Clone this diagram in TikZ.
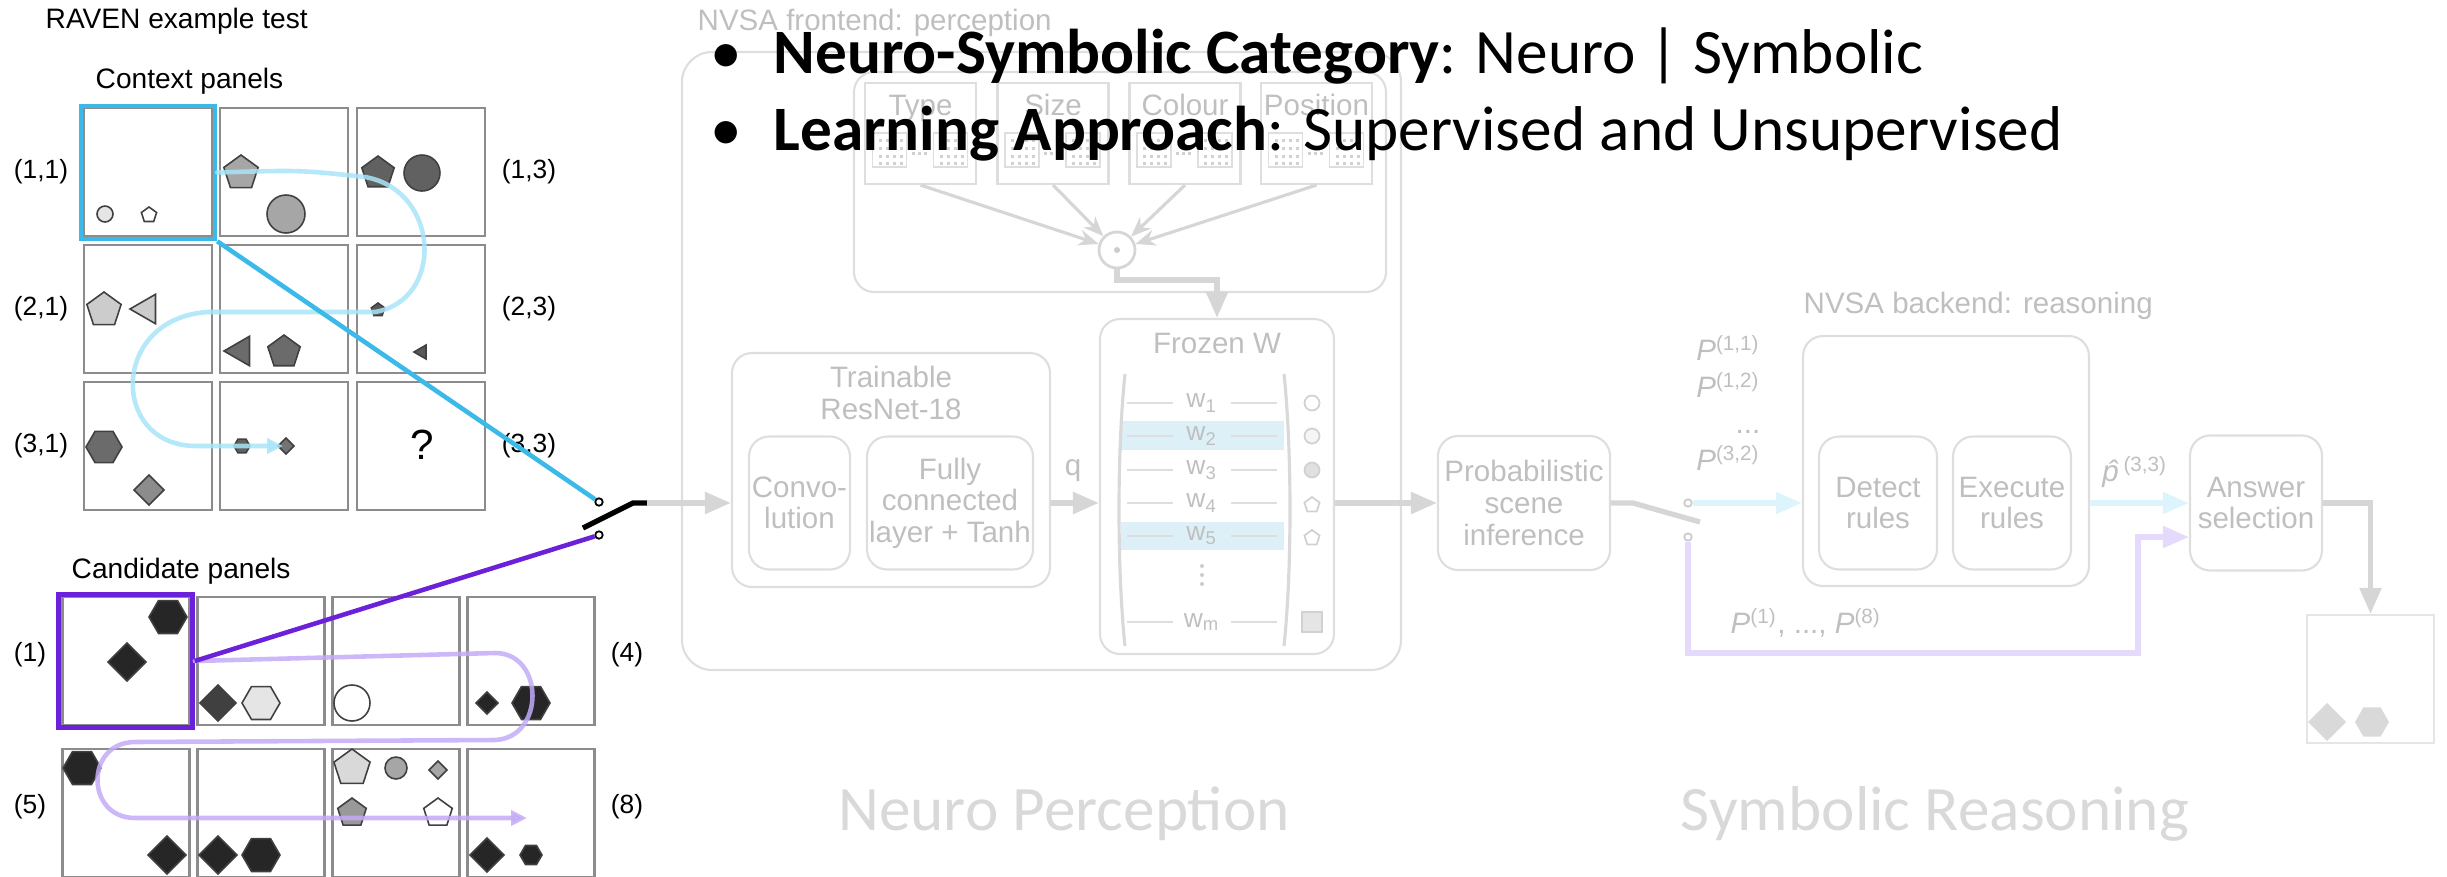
\documentclass[tikz,border=0pt]{standalone}
\usepackage{fontspec}
\setmainfont{Carlito}
\newfontfamily\figfont{Liberation Sans}
\usetikzlibrary{arrows.meta,positioning}

\definecolor{linkblue}{HTML}{3BB9E8}
\definecolor{snakeblue}{HTML}{A8E4F8}
\definecolor{linkpurple}{HTML}{6B21D9}
\definecolor{snakepurple}{HTML}{C3ABF7}
\definecolor{fadecyan}{HTML}{DDF4FC}
\definecolor{fadepurple}{HTML}{E5DAFB}
\definecolor{wband}{HTML}{DDF0F7}

\newcommand{\hexa}[4]{\filldraw[shaperim, fill=#4] (#1,#2) +(0:#3) -- +(60:#3) -- +(120:#3) -- +(180:#3) -- +(240:#3) -- +(300:#3) -- cycle;}
\newcommand{\penta}[4]{\filldraw[shaperim, fill=#4] (#1,#2) +(270:#3) -- +(342:#3) -- +(54:#3) -- +(126:#3) -- +(198:#3) -- cycle;}
\newcommand{\diam}[4]{\filldraw[shaperim, fill=#4] (#1,#2) +(0:#3) -- +(90:#3) -- +(180:#3) -- +(270:#3) -- cycle;}
\newcommand{\trig}[4]{\filldraw[shaperim, fill=#4] (#1,#2) +(180:#3) -- +(60:#3) -- +(300:#3) -- cycle;}
\newcommand{\disc}[4]{\filldraw[shaperim, fill=#4] (#1,#2) circle[radius=#3*0.1mm];}

\begin{document}
\begin{tikzpicture}[
    x=0.1mm, y=-0.1mm,
    panel/.style={draw=black!45, line width=0.6pt, minimum width=12.8mm, minimum height=12.8mm, inner sep=0pt},
    headline/.style={font=\figfont\fontsize{8}{9.6}\selectfont, inner sep=0pt},
    coord/.style={font=\figfont\fontsize{7.5}{9}\selectfont, inner sep=0pt},
    pick/.style={draw=#1, line width=1.3pt, minimum width=13.4mm, minimum height=13.3mm, inner sep=0pt},
    shaperim/.style={draw=black!75, line width=0.45pt},
    trail/.style={draw=#1, opacity=0.85, line width=1.3pt, line cap=round, -{Triangle[length=1.6mm,width=1.5mm]}},
    contact/.style={circle, draw=#1, fill=white, line width=0.5pt, minimum size=0.75mm, inner sep=0pt},
    fadebox/.style={draw=black!13, line width=0.6pt, rounded corners=2mm, inner sep=0pt, text=black!25, font=\figfont\fontsize{8.4}{9}\selectfont, align=center},
    fadetext/.style={text=black!25, font=\figfont\fontsize{8.4}{9.2}\selectfont, align=center, inner sep=0pt},
    fadearrow/.style={draw=black!16, line width=1.5pt, -{Triangle[length=2.6mm,width=2.1mm]}},
    thinarrow/.style={draw=black!16, line width=0.9pt, -{Stealth[length=2mm,width=1.6mm]}},
    bigtitle/.style={font=\fontsize{18}{21}\selectfont, text=black!15, inner sep=0pt},
    bullet/.style={font=\fontsize{18}{21}\selectfont, inner sep=0pt, anchor=base west}
]
    \useasboundingbox (0,0) rectangle (2447,876);

    % RAVEN test: context and candidate panels
    \node[headline, anchor=west] (raven) at (45,21) {RAVEN example test};
    \node[headline, anchor=west] (ctxlbl) at (95,81) {Context panels};
    \node[headline, anchor=west] (candlbl) at (71,571) {Candidate panels};

    \foreach \r/\y in {1/172,2/309,3/446} {
        \foreach \c/\x in {1/148,2/284,3/421}
            \node[panel] (c\r\c) at (\x,\y) {};
        \node[coord] (l\r1) at (41,\y) {(\r,1)};
        \node[coord] (l\r3) at (529,\y) {(\r,3)};
    }
    \foreach \i/\x/\y in {1/126/661,2/261/661,3/396/661,4/531/661,5/126/813,6/261/813,7/396/813,8/531/813}
        \node[panel, minimum width=12.7mm] (a\i) at (\x,\y) {};
    \node[coord] (n1) at (30,655) {(1)};
    \node[coord] (n4) at (627,655) {(4)};
    \node[coord] (n5) at (30,807) {(5)};
    \node[coord] (n8) at (627,807) {(8)};

    \disc{105}{214}{8}{black!10}
    \penta{149}{215}{8}{white}
    \penta{241}{173}{18}{black!35}
    \disc{286}{214}{19}{black!35}
    \penta{378}{173}{17}{black!62}
    \disc{422}{173}{18}{black!62}
    \penta{104}{310}{18}{black!20}
    \trig{147}{309}{17}{black!20}
    \trig{241}{351}{17}{black!58}
    \penta{284}{352}{17}{black!58}
    \penta{378}{310}{7}{black!65}
    \trig{422}{352}{8}{black!65}
    \hexa{104}{447}{18}{black!58}
    \diam{149}{490}{15}{black!45}
    \hexa{242}{446}{8}{black!62}
    \diam{286}{446}{8}{black!55}
    \node[font=\figfont\fontsize{12}{14}\selectfont] (qmark) at (422,445) {?};

    \hexa{168}{617}{19}{black!85}
    \diam{127}{662}{19}{black!85}
    \diam{218}{703}{18}{black!75}
    \hexa{261}{703}{19}{black!10}
    \disc{352}{703}{18}{white}
    \diam{487}{703}{11}{black!85}
    \hexa{531}{703}{19}{black!85}
    \hexa{82}{768}{19}{black!85}
    \diam{167}{855}{19}{black!85}
    \diam{218}{855}{19}{black!85}
    \hexa{261}{855}{19}{black!85}
    \penta{352}{768}{19}{black!15}
    \disc{396}{768}{11}{black!35}
    \diam{438}{770}{9}{black!35}
    \penta{352}{813}{15}{black!40}
    \penta{438}{813}{15}{white}
    \diam{487}{855}{17}{black!85}
    \hexa{531}{855}{11}{black!85}

    \node[pick=linkblue] (hl11) at (148,172.5) {};
    \node[pick=linkpurple] (hla1) at (125.5,661) {};

    \draw[trail=snakeblue] (hl11.east) .. controls (300,170) .. (365,177) .. controls (440,190) and (445,300) .. (375,312) -- (208,312) .. controls (110,318) and (110,445) .. (195,446) -- (283,446);
    \draw[trail=snakepurple] (hla1.east) -- (495,653) .. controls (545,653) and (545,738) .. (495,740) -- (135,742) .. controls (85,742) and (85,818) .. (135,818) -- (527,818);

    % input switch
    \coordinate (lev1a) at (583,528);
    \coordinate (lev1b) at (633,503);
    \coordinate (lev1c) at (647,503);
    \node[contact=black] (sw1a) at (599,502) {};
    \node[contact=black] (sw1b) at (599,535) {};
    \draw[linkblue, line width=1.3pt] (hl11.south east) -- (sw1a);
    \draw[linkpurple, line width=1.3pt] (hla1.east) -- (sw1b);
    \draw[line width=1.5pt] (lev1a) -- (lev1b) -- (lev1c);

    % frontend
    \node[fadetext, anchor=base west] (fronttitle) at (697,30) {NVSA frontend: perception};
    \node[fadebox, rounded corners=3mm, minimum width=71.9mm, minimum height=61.8mm] (frontend) at (1041.5,361) {};
    \node[fadebox, minimum width=53.2mm, minimum height=22mm] (attr) at (1120,182) {};
    \foreach \n/\lbl/\x in {type/Type/920.5,size/Size/1053,colour/Colour/1185,position/Position/1316.5} {
        \node[fadebox, sharp corners, minimum width=11.1mm, minimum height=10.1mm] (\n) at (\x,133.5) {};
        \node[fadetext, anchor=base] (\n-name) at (\x,115) {\lbl};
        \foreach \dx in {-31,30} {
            \draw[black!13, line width=0.4pt] (\x+\dx-17,133) rectangle (\x+\dx+17,167);
            \foreach \gx in {-11,-4,3,10}
                \foreach \gy in {-11,-3,5,12}
                    \fill[black!18] (\x+\dx+\gx,150+\gy) rectangle ++(3,3);
        }
        \foreach \gx in {-9,-3,3}
            \fill[black!18] (\x+\gx,152) rectangle ++(3,3);
    }
    \node[circle, draw=black!16, line width=0.8pt, minimum size=3.6mm, inner sep=0pt] (dot) at (1117,250) {};
    \fill[black!20] (dot) circle[radius=0.3mm];
    \foreach \n in {type,size,colour,position}
        \draw[thinarrow] (\n.south) -- (dot);

    \node[fadebox, minimum width=23.4mm, minimum height=33.5mm] (frozen) at (1217,486.5) {};
    \node[fadetext] (frozentitle) at (1217,343) {Frozen W};
    \coordinate (jog) at (1117,280);
    \draw[fadearrow] (dot) -- (jog) -| (frozen.north);
    \fill[wband] (1121,421) rectangle (1284,450);
    \fill[wband] (1121,522) rectangle (1284,550);
    \draw[black!15, line width=0.9pt] (1125,374) .. controls (1117,450) and (1117,570) .. (1125,646);
    \draw[black!15, line width=0.9pt] (1284,374) .. controls (1292,450) and (1292,570) .. (1284,646);
    \foreach \i/\y in {1/403,2/436,3/470,4/503,5/536,m/622} {
        \draw[black!13, line width=0.5pt] (1127,\y) -- (1173,\y) (1231,\y) -- (1277,\y);
        \node[fadetext, font=\figfont\fontsize{7.5}{9}\selectfont] (w\i) at (1202,\y) {w\textsubscript{\i}};
    }
    \foreach \y in {566,575,584}
        \fill[black!20] (1202,\y) circle[radius=0.2mm];
    \begin{scope}[shaperim/.style={draw=black!18, line width=0.5pt}]
        \disc{1312}{403}{7.5}{white}
        \disc{1312}{436}{7.5}{black!4}
        \disc{1312}{470}{7.5}{black!12}
        \penta{1312}{505}{8}{white}
        \penta{1312}{538}{8}{white}
        \filldraw[shaperim, fill=black!10] (1302,612) rectangle (1322,632);
    \end{scope}

    \node[fadebox, minimum width=31.8mm, minimum height=23.4mm] (resnet) at (891,470) {};
    \node[fadetext] (resnettitle) at (891,393) {Trainable\\ResNet-18};
    \node[fadebox, minimum width=10.1mm, minimum height=13.3mm] (conv) at (799.5,503) {Convo-\\lution};
    \node[fadebox, minimum width=16.6mm, minimum height=13.3mm] (fully) at (950,503) {Fully\\connected\\layer + Tanh};
    \node[fadetext] (q) at (1073,471) {q};

    \node[fadebox, minimum width=17.2mm, minimum height=13.4mm] (prob) at (1524,503) {Probabilistic\\scene\\inference};

    \draw[fadearrow] (lev1c) -- (lev1c -| resnet.west);
    \draw[fadearrow] (resnet.east |- fully) -- (frozen.west |- fully);
    \draw[fadearrow] (frozen.east |- prob) -- (prob.west);

    % backend
    \coordinate (lev2a) at (1633,503);
    \coordinate (lev2b) at (1700,522);
    \node[contact=black!20] (sw2a) at (1688,503) {};
    \node[contact=black!20] (sw2b) at (1688,537) {};
    \draw[black!16, line width=1.5pt] (prob.east) -- (lev2a) -- (lev2b);

    \node[fadetext, anchor=base west] (backtitle) at (1803,313) {NVSA backend: reasoning};
    \node[fadebox, minimum width=28.6mm, minimum height=25mm] (backend) at (1946,461) {};
    \node[fadebox, minimum width=11.8mm, minimum height=13.3mm] (detect) at (1878,503) {Detect\\rules};
    \node[fadebox, minimum width=11.8mm, minimum height=13.3mm] (execute) at (2012,503) {Execute\\rules};
    \node[fadebox, minimum width=13.2mm, minimum height=13.5mm] (answer) at (2256,503) {Answer\\selection};

    \node[fadetext, align=right, anchor=east, font=\figfont\fontsize{8.4}{10.4}\selectfont] (plist) at (1761,403) {\textit{P}\textsuperscript{(1,1)}\\\textit{P}\textsuperscript{(1,2)}\\...\\\textit{P}\textsuperscript{(3,2)}};
    \node[fadetext] (phat) at (2135,472) {\textit{\^{p}}\textsuperscript{(3,3)}};
    \node[fadetext, anchor=west] (plist2) at (1730,623) {\textit{P}\textsuperscript{(1)}, ..., \textit{P}\textsuperscript{(8)}};

    \coordinate (pturn) at (2138,653);
    \draw[fadearrow, draw=fadecyan] (sw2a) -- (backend.west |- sw2a);
    \draw[fadearrow, draw=fadecyan] (backend.east |- answer) -- (answer.west);
    \draw[fadearrow, draw=fadepurple] (sw2b) |- (pturn) |- (answer.west |- sw2b);

    \node[draw=black!10, line width=0.6pt, minimum width=12.7mm, minimum height=12.8mm] (outbox) at (2370.5,679) {};
    \draw[fadearrow] (answer.east) -| (outbox.north);
    \begin{scope}[shaperim/.style={draw=none}]
        \diam{2327}{722}{19}{black!15}
        \hexa{2372}{722}{17}{black!15}
    \end{scope}

    \node[bigtitle, anchor=base] (neurolbl) at (1064,830) {Neuro Perception};
    \node[bigtitle, anchor=base] (symblbl) at (1935,830) {Symbolic Reasoning};

    \node[bullet] (cat) at (710,73) {\makebox[17.9pt][l]{\textbullet}\textbf{Neuro-Symbolic Category}: Neuro | Symbolic};
    \node[bullet] (learn) at (710,150) {\makebox[17.9pt][l]{\textbullet}\textbf{Learning Approach}: Supervised and Unsupervised};
\end{tikzpicture}
\end{document}
